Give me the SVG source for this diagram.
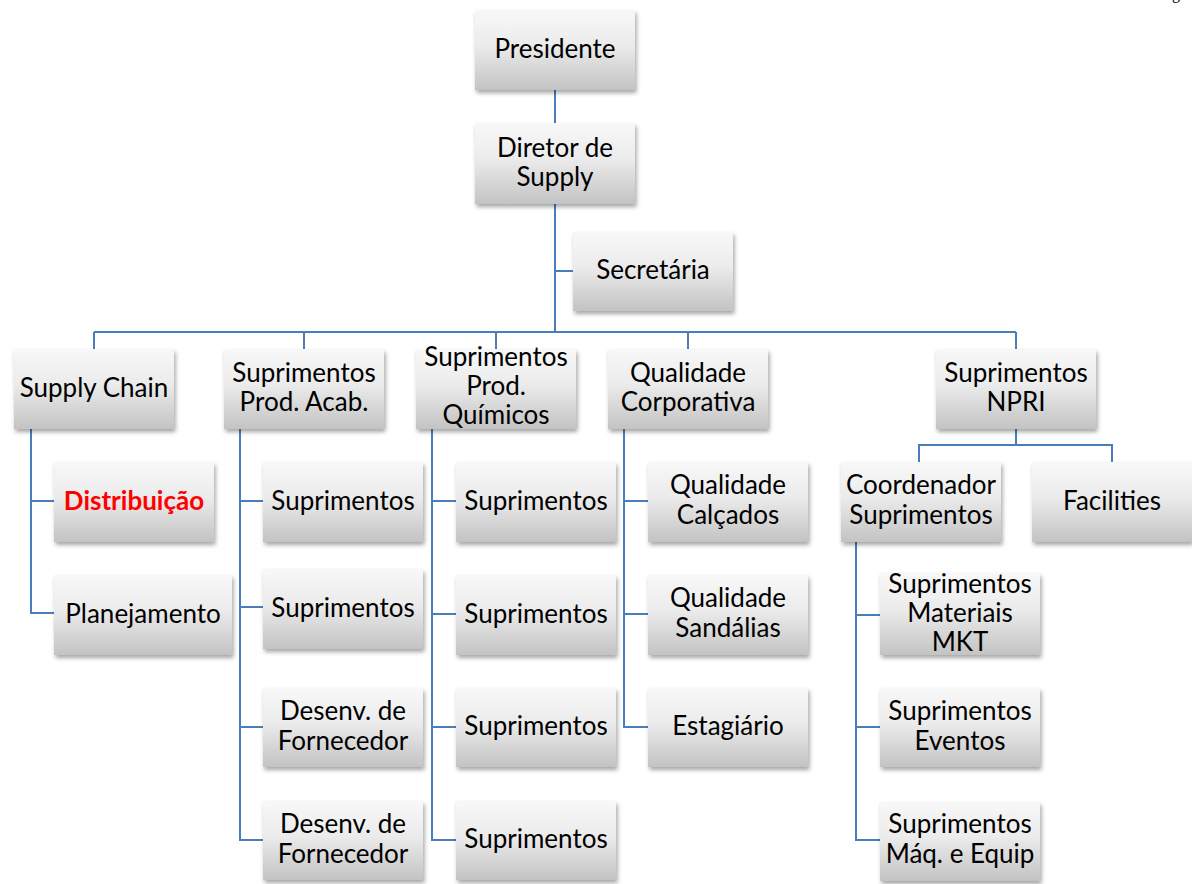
<svg xmlns="http://www.w3.org/2000/svg" width="1192" height="884" viewBox="0 0 1192 884">
  <defs>
    <linearGradient id="boxFill" x1="0" y1="0" x2="0" y2="1">
      <stop offset="0" stop-color="#f8f8f8"/>
      <stop offset="0.45" stop-color="#ebebeb"/>
      <stop offset="1" stop-color="#c3c3c3"/>
    </linearGradient>
    <filter id="shadow" x="-10%" y="-10%" width="125%" height="130%">
      <feDropShadow dx="1.5" dy="3" stdDeviation="2" flood-color="#000" flood-opacity="0.35"/>
    </filter>
  </defs>
  <style>
    .box { fill: url(#boxFill); filter: url(#shadow); }
    .lbl { font-family: Lato, "Open Sans", sans-serif; font-size: 26px; fill: #000; text-anchor: middle; }
    .hot { fill: #ff0000; font-weight: bold; }
    .link { fill: none; stroke: #4a7ebb; stroke-width: 2; }
    .hdr { font-family: "Liberation Serif", serif; font-size: 16px; fill: #000; }
  </style>
  <rect width="1192" height="884" fill="#fff"/>
  <text class="hdr" x="1172" y="-1">g</text>

  <g id="connectors">
    <path class="link" d="M555 90 V123"/>
    <path class="link" d="M555 204 V332"/>
    <path class="link" d="M555 271 H573"/>
    <path class="link" d="M94 332 H1016"/>
    <path class="link" d="M94 332 V349 M304 332 V349 M496 332 V349 M688 332 V349 M1016 332 V349"/>
    <path class="link" d="M31 429 V613 H54 M31 501 H54"/>
    <path class="link" d="M240 429 V840 H263 M240 501 H263 M240 607 H263 M240 727 H263"/>
    <path class="link" d="M432 429 V840 H456 M432 501 H456 M432 614 H456 M432 727 H456"/>
    <path class="link" d="M624 429 V727 H648 M624 501 H648 M624 614 H648"/>
    <path class="link" d="M1016 429 V445 M919 462 V445 H1112 V462"/>
    <path class="link" d="M856 542 V840 H880 M856 615 H880 M856 727 H880"/>
  </g>

  <g id="presidente">
    <rect class="box" x="475" y="10" width="160" height="80"/>
    <text class="lbl" x="555" y="58">Presidente</text>
  </g>
  <g id="diretor">
    <rect class="box" x="475" y="123" width="160" height="81"/>
    <text class="lbl" x="555" y="157">Diretor de</text>
    <text class="lbl" x="555" y="186">Supply</text>
  </g>
  <g id="secretaria">
    <rect class="box" x="573" y="232" width="160" height="79"/>
    <text class="lbl" x="653" y="279">Secretária</text>
  </g>

  <g id="supply-chain">
    <rect class="box" x="14" y="349" width="160" height="80"/>
    <text class="lbl" x="94" y="397">Supply Chain</text>
  </g>
  <g id="prod-acab">
    <rect class="box" x="224" y="349" width="160" height="80"/>
    <text class="lbl" x="304" y="382">Suprimentos</text>
    <text class="lbl" x="304" y="411">Prod. Acab.</text>
  </g>
  <g id="prod-quimicos">
    <rect class="box" x="416" y="349" width="160" height="80"/>
    <text class="lbl" x="496" y="366">Suprimentos</text>
    <text class="lbl" x="496" y="395">Prod.</text>
    <text class="lbl" x="496" y="424">Químicos</text>
  </g>
  <g id="qualidade-corp">
    <rect class="box" x="608" y="349" width="160" height="80"/>
    <text class="lbl" x="688" y="382">Qualidade</text>
    <text class="lbl" x="688" y="411">Corporativa</text>
  </g>
  <g id="npri">
    <rect class="box" x="936" y="349" width="160" height="80"/>
    <text class="lbl" x="1016" y="382">Suprimentos</text>
    <text class="lbl" x="1016" y="411">NPRI</text>
  </g>

  <g id="distribuicao">
    <rect class="box" x="54" y="462" width="160" height="80"/>
    <text class="lbl hot" x="134" y="510">Distribuição</text>
  </g>
  <g id="planejamento">
    <rect class="box" x="54" y="575" width="178" height="80"/>
    <text class="lbl" x="143" y="623">Planejamento</text>
  </g>

  <g id="pa-suprimentos-1">
    <rect class="box" x="263" y="462" width="160" height="80"/>
    <text class="lbl" x="343" y="510">Suprimentos</text>
  </g>
  <g id="pa-suprimentos-2">
    <rect class="box" x="263" y="569" width="160" height="80"/>
    <text class="lbl" x="343" y="617">Suprimentos</text>
  </g>
  <g id="pa-desenv-1">
    <rect class="box" x="263" y="688" width="160" height="79"/>
    <text class="lbl" x="343" y="720">Desenv. de</text>
    <text class="lbl" x="343" y="750">Fornecedor</text>
  </g>
  <g id="pa-desenv-2">
    <rect class="box" x="263" y="801" width="160" height="79"/>
    <text class="lbl" x="343" y="833">Desenv. de</text>
    <text class="lbl" x="343" y="863">Fornecedor</text>
  </g>

  <g id="pq-suprimentos-1">
    <rect class="box" x="456" y="462" width="160" height="80"/>
    <text class="lbl" x="536" y="510">Suprimentos</text>
  </g>
  <g id="pq-suprimentos-2">
    <rect class="box" x="456" y="575" width="160" height="80"/>
    <text class="lbl" x="536" y="623">Suprimentos</text>
  </g>
  <g id="pq-suprimentos-3">
    <rect class="box" x="456" y="688" width="160" height="79"/>
    <text class="lbl" x="536" y="735">Suprimentos</text>
  </g>
  <g id="pq-suprimentos-4">
    <rect class="box" x="456" y="801" width="160" height="79"/>
    <text class="lbl" x="536" y="848">Suprimentos</text>
  </g>

  <g id="qualidade-calcados">
    <rect class="box" x="648" y="462" width="160" height="80"/>
    <text class="lbl" x="728" y="494">Qualidade</text>
    <text class="lbl" x="728" y="524">Calçados</text>
  </g>
  <g id="qualidade-sandalias">
    <rect class="box" x="648" y="575" width="160" height="80"/>
    <text class="lbl" x="728" y="607">Qualidade</text>
    <text class="lbl" x="728" y="637">Sandálias</text>
  </g>
  <g id="estagiario">
    <rect class="box" x="648" y="688" width="160" height="79"/>
    <text class="lbl" x="728" y="735">Estagiário</text>
  </g>

  <g id="coordenador">
    <rect class="box" x="841" y="462" width="160" height="80"/>
    <text class="lbl" x="921" y="494">Coordenador</text>
    <text class="lbl" x="921" y="524">Suprimentos</text>
  </g>
  <g id="facilities">
    <rect class="box" x="1032" y="462" width="160" height="80"/>
    <text class="lbl" x="1112" y="510">Facilities</text>
  </g>

  <g id="materiais-mkt">
    <rect class="box" x="880" y="573" width="160" height="82"/>
    <text class="lbl" x="960" y="593">Suprimentos</text>
    <text class="lbl" x="960" y="622">Materiais</text>
    <text class="lbl" x="960" y="651">MKT</text>
  </g>
  <g id="eventos">
    <rect class="box" x="880" y="688" width="160" height="79"/>
    <text class="lbl" x="960" y="720">Suprimentos</text>
    <text class="lbl" x="960" y="750">Eventos</text>
  </g>
  <g id="maq-equip">
    <rect class="box" x="880" y="802" width="160" height="79"/>
    <text class="lbl" x="960" y="833">Suprimentos</text>
    <text class="lbl" x="960" y="863">Máq. e Equip</text>
  </g>
</svg>
